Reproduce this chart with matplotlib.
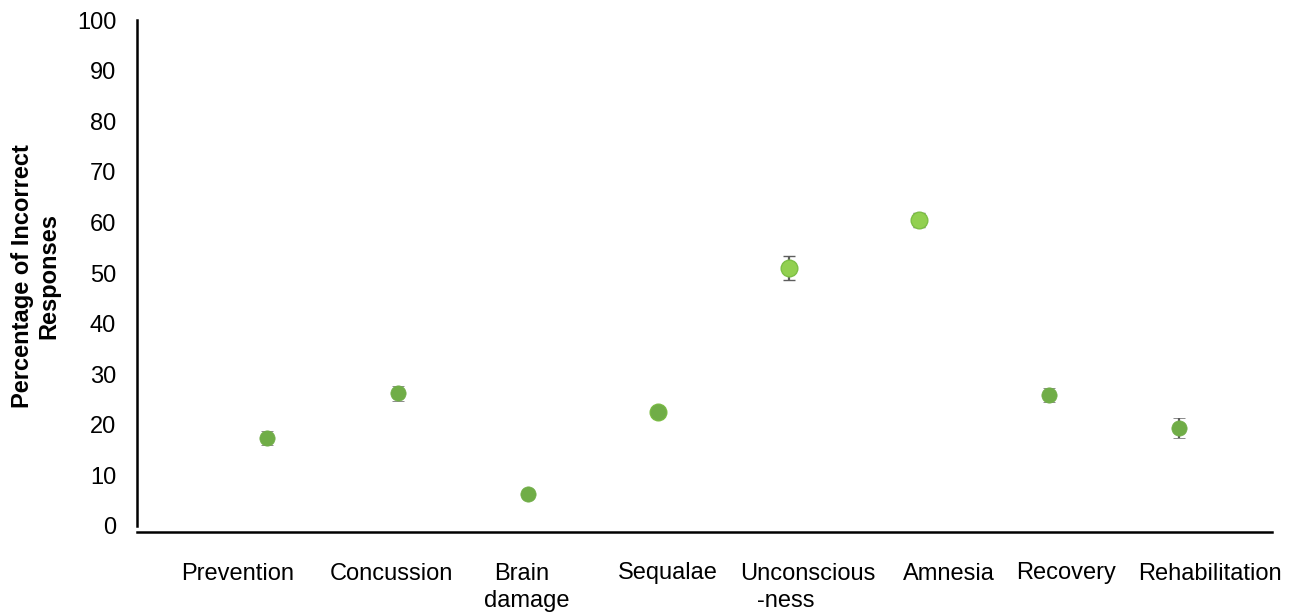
import numpy as np
import matplotlib.pyplot as plt
import matplotlib.transforms as mtransforms

plt.rcParams['font.family'] = ['Liberation Sans', 'DejaVu Sans']

categories = ["Prevention", "Concussion", "Brain\ndamage", "Sequalae",
              "Unconscious\n-ness", "Amnesia", "Recovery", "Rehabilitation"]

# dark green points (nan = not in this series)
dark_vals = [17.4, 26.2, 6.4, 22.5, np.nan, np.nan, 25.9, 19.4]
dark_err = [1.4, 1.5, 0.8, 0.7, np.nan, np.nan, 1.4, 2.0]
# light green points
light_vals = [np.nan, np.nan, np.nan, 22.5, 51.0, 60.5, np.nan, np.nan]
light_err = [np.nan, np.nan, np.nan, 0.7, 2.4, 1.4, np.nan, np.nan]

x = np.arange(1, len(categories) + 1)

# category text boxes sit a bit off the points in the original (layout only)
label_pos = [[0.771], [1.950], [2.950, 2.993], [4.077],
             [5.148, 4.975], [6.229], [7.128], [8.232]]

fig = plt.figure(figsize=(12.95, 6.12), dpi=100)
ax = fig.add_axes([137 / 1295, 1 - 526 / 612, 1135 / 1295, 506 / 612])

ax.errorbar(x, light_vals, yerr=light_err, fmt='o', ms=12, mfc='#92D050',
            mec='#7DBF45', mew=1.0, ecolor='#5E5E5E', elinewidth=1.6,
            capsize=4.5, capthick=2.2, zorder=3, clip_on=False)
ax.errorbar(x, dark_vals, yerr=dark_err, fmt='o', ms=11, mfc='#70AD47',
            mec='#70AD47', mew=0.5, ecolor='#5E5E5E', elinewidth=1.6,
            capsize=4.5, capthick=2.2, zorder=4, clip_on=False)

ax.set_xlim(0, 8.71)
ax.set_ylim(0, 100)
ax.set_yticks(range(0, 101, 10))
ax.set_xticks([])
ax.tick_params(axis='y', length=0, pad=15, labelsize=17)

trans = mtransforms.blended_transform_factory(ax.transData, fig.transFigure)
baselines = [1 - 579.5 / 612, 1 - 606.8 / 612]
for cat, pos in zip(categories, label_pos):
    for line, xp, yb in zip(cat.split("\n"), pos, baselines):
        ax.text(xp, yb, line, transform=trans, ha='center', va='baseline',
                fontsize=17, clip_on=False)

for s in ['top', 'right']:
    ax.spines[s].set_visible(False)
for s in ['left', 'bottom']:
    ax.spines[s].set_linewidth(1.8)
    ax.spines[s].set_color('black')
ax.spines['bottom'].set_position(('outward', 4.5))

fig.text(36 / 1295, 1 - 276 / 612, "Percentage of Incorrect\nResponses",
         rotation=90, ha='center', va='center', multialignment='center',
         fontsize=17, fontweight='bold')

fig.savefig("out.png", dpi=100)
